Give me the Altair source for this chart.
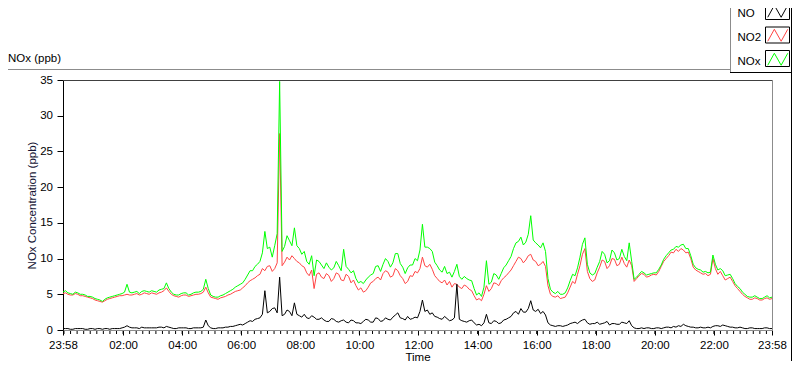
import altair as alt
import pandas as pd

# ---------------- data: one sample every 5 min, starting 23:58 ----------------
STEP_MIN = 5

no2 = [
    5.1, 5.2, 5.0, 4.9, 4.9, 5.1, 5.0, 4.8, 4.8, 4.7, 4.6, 4.5,
    4.4, 4.2, 4.1, 4.0, 3.9, 4.1, 4.3, 4.4, 4.5, 4.6, 4.7, 4.8,
    4.8, 4.9, 5.0, 4.9, 4.9, 5.0, 5.1, 4.9, 5.0, 5.2, 5.1, 5.0,
    5.2, 5.1, 5.0, 5.2, 5.3, 5.5, 5.9, 5.4, 5.0, 4.8, 4.7, 4.6,
    4.8, 4.9, 4.9, 4.7, 4.8, 4.9, 5.0, 5.0, 5.1, 5.3, 6.0, 5.2,
    4.6, 4.5, 4.4, 4.3, 4.5, 4.6, 4.7, 4.9, 5.0, 5.2, 5.4, 5.5,
    5.6, 5.9, 6.2, 6.6, 6.9, 7.1, 7.3, 7.6, 7.8, 8.6, 8.3, 8.9,
    9.0, 8.2, 8.6, 9.4, 27.5, 9.0, 9.5, 10.2, 9.8, 10.4, 10.0, 9.6,
    9.4, 9.0, 8.8, 8.0, 7.6, 8.4, 5.8, 7.8, 8.0, 7.4, 7.2, 7.9,
    7.6, 6.8, 7.2, 8.0, 7.8, 7.0, 6.9, 7.8, 7.5, 6.6, 7.0, 6.2,
    5.6, 5.9, 5.3, 5.5, 6.0, 6.6, 6.8, 7.2, 7.4, 7.0, 7.9, 8.3,
    8.1, 7.4, 7.6, 8.6, 8.3, 7.6, 7.2, 6.5, 6.8, 7.6, 7.5, 8.2,
    8.0, 8.6, 10.2, 9.0, 8.8, 9.2, 8.5, 7.6, 7.2, 6.8, 6.6, 7.0,
    6.3, 6.8, 6.0, 6.5, 6.4, 6.0, 5.8, 6.3, 6.1, 5.7, 5.5, 4.8,
    4.2, 4.4, 4.1, 5.0, 6.2, 5.4, 5.8, 6.6, 6.5, 6.2, 6.9, 7.3,
    7.6, 8.0, 8.4, 9.0, 9.6, 10.2, 10.0, 9.4, 9.8, 10.4, 10.6, 9.8,
    9.6, 9.0, 9.2, 9.6, 8.9, 6.2, 5.0, 4.7, 4.6, 4.8, 4.4, 4.5,
    4.6, 5.2, 6.0, 6.8, 6.5, 7.8, 9.0, 10.6, 11.4, 8.2, 7.2, 6.8,
    7.0, 8.0, 8.8, 9.8, 9.6, 8.6, 9.0, 10.0, 9.9, 9.0, 9.2, 10.2,
    9.3, 8.8, 9.8, 9.0, 6.8, 7.2, 7.6, 7.9, 7.8, 7.4, 7.5, 7.7,
    7.8, 7.7, 8.2, 8.9, 9.6, 10.0, 10.4, 10.9, 10.8, 11.3, 11.0, 11.4,
    11.2, 10.8, 10.9, 10.0, 8.8, 8.4, 8.2, 8.0, 7.8, 7.9, 7.6, 7.8,
    10.0, 8.6, 7.8, 8.2, 7.6, 7.0, 7.2, 7.4, 6.8, 6.2, 5.8, 5.4,
    5.0, 4.7, 4.5, 4.3, 4.3, 4.5, 4.4, 4.2, 4.2, 4.4, 4.5, 4.3, 4.4,
]

no = [
    0.2, 0.2, 0.2, 0.1, 0.1, 0.2, 0.2, 0.2, 0.2, 0.1, 0.1, 0.2,
    0.2, 0.1, 0.2, 0.2, 0.1, 0.2, 0.2, 0.1, 0.2, 0.2, 0.2, 0.2,
    0.3, 0.4, 0.6, 0.4, 0.3, 0.3, 0.3, 0.2, 0.4, 0.3, 0.3, 0.3,
    0.3, 0.3, 0.3, 0.4, 0.4, 0.3, 0.5, 0.4, 0.3, 0.2, 0.2, 0.3,
    0.3, 0.3, 0.3, 0.2, 0.2, 0.3, 0.3, 0.3, 0.3, 0.4, 1.4, 0.6,
    0.3, 0.2, 0.2, 0.3, 0.3, 0.3, 0.4, 0.4, 0.5, 0.5, 0.6, 0.7,
    0.8, 0.7, 0.9, 1.1, 1.3, 1.2, 1.5, 1.6, 1.7, 2.2, 5.5, 2.4,
    2.6, 3.0, 3.1, 2.4, 7.4, 2.0, 2.2, 2.8, 2.6, 2.0, 3.8, 2.2,
    2.0, 1.8, 2.2, 1.7, 1.6, 2.0, 1.8, 1.5, 1.5, 1.7, 1.4, 1.2,
    1.2, 1.6, 1.5, 1.2, 1.1, 1.3, 1.4, 1.1, 1.0, 1.4, 1.3, 1.0,
    1.0, 0.9, 1.2, 1.5, 1.4, 1.1, 1.1, 1.7, 1.6, 1.2, 1.3, 1.7,
    1.5, 1.4, 1.8, 2.1, 2.4, 1.7, 1.6, 1.4, 1.9, 1.5, 1.6, 1.8,
    1.7, 2.6, 4.2, 2.6, 2.8, 2.2, 2.4, 1.9, 1.8, 1.6, 1.5, 1.9,
    1.6, 1.3, 1.4, 1.7, 6.4, 1.5, 1.3, 1.2, 1.1, 1.3, 1.4, 1.0,
    0.7, 0.8, 0.6, 1.0, 2.2, 1.0, 0.9, 1.3, 1.2, 0.9, 1.0, 1.4,
    1.5, 1.7, 1.9, 2.4, 2.6, 2.2, 3.0, 2.5, 2.5, 3.0, 4.1, 2.8,
    2.6, 2.9, 2.3, 2.6, 2.1, 1.0, 0.7, 0.6, 0.5, 0.6, 0.6, 0.5,
    0.6, 0.7, 0.9, 1.0, 1.1, 0.9, 1.2, 1.4, 1.5, 1.0, 0.8, 0.9,
    0.9, 1.1, 0.8, 0.9, 1.0, 1.2, 0.7, 0.9, 0.9, 0.8, 0.8, 1.1,
    1.0, 0.9, 1.3, 0.6, 0.3, 0.2, 0.2, 0.3, 0.2, 0.3, 0.3, 0.2,
    0.2, 0.3, 0.3, 0.2, 0.3, 0.4, 0.4, 0.3, 0.5, 0.4, 0.6, 0.5,
    0.8, 0.6, 0.5, 0.4, 0.4, 0.3, 0.3, 0.4, 0.3, 0.3, 0.4, 0.3,
    0.5, 0.6, 0.6, 0.5, 0.7, 0.6, 0.5, 0.4, 0.4, 0.3, 0.3, 0.4,
    0.3, 0.2, 0.2, 0.3, 0.3, 0.2, 0.2, 0.2, 0.2, 0.3, 0.3, 0.2, 0.2,
]

nox = [
    5.3, 5.5, 5.2, 5.1, 5.0, 5.3, 5.2, 5.0, 5.0, 4.9, 4.7, 4.7,
    4.6, 4.4, 4.3, 4.2, 4.0, 4.3, 4.5, 4.6, 4.7, 4.8, 4.9, 5.0,
    5.1, 5.3, 6.4, 5.3, 5.2, 5.3, 5.4, 5.1, 5.4, 5.5, 5.4, 5.3,
    5.5, 5.4, 5.3, 5.6, 5.7, 5.8, 6.6, 5.8, 5.3, 5.0, 4.9, 4.9,
    5.1, 5.2, 5.2, 4.9, 5.0, 5.2, 5.3, 5.3, 5.4, 5.7, 7.1, 5.8,
    4.9, 4.7, 4.6, 4.6, 4.8, 4.9, 5.1, 5.3, 5.5, 5.7, 6.0, 6.2,
    6.4, 6.6, 7.1, 7.7, 8.3, 8.3, 8.9, 9.2, 9.6, 10.8, 13.8, 11.4,
    11.6, 10.2, 11.8, 13.5, 34.8, 11.0, 11.7, 13.2, 12.5, 11.8, 14.3, 11.8,
    11.4, 10.6, 11.0, 9.6, 9.2, 10.4, 7.6, 9.8, 9.6, 9.1, 8.6, 9.4,
    8.8, 8.4, 8.7, 9.6, 9.0, 8.3, 11.3, 8.9, 8.5, 8.0, 8.3, 7.2,
    6.6, 6.8, 6.5, 7.0, 7.4, 7.7, 7.9, 8.9, 9.0, 8.2, 9.2, 10.0,
    9.6, 8.8, 9.4, 10.7, 10.7, 9.3, 8.8, 7.9, 8.7, 9.1, 9.1, 10.0,
    9.7, 11.2, 14.8, 11.6, 11.6, 11.4, 11.0, 9.5, 9.0, 8.4, 8.1, 8.9,
    7.9, 8.1, 7.4, 8.2, 9.2, 7.5, 7.1, 7.5, 7.2, 7.0, 6.9, 5.8,
    4.9, 5.2, 4.7, 6.0, 9.7, 6.4, 6.7, 7.9, 7.7, 7.1, 7.9, 8.7,
    9.1, 9.7, 10.3, 11.4, 12.2, 12.4, 13.0, 11.9, 12.3, 13.4, 16.0, 12.6,
    12.2, 11.9, 11.5, 12.2, 11.0, 7.2, 5.7, 5.3, 5.1, 5.4, 5.0, 5.0,
    5.2, 5.9, 6.9, 7.8, 7.6, 8.7, 10.2, 12.0, 12.9, 9.2, 8.0, 7.7,
    7.9, 8.8, 9.6, 11.0, 10.6, 9.4, 9.7, 11.2, 10.8, 9.8, 10.0, 11.3,
    10.3, 9.7, 12.2, 9.6, 7.1, 7.4, 7.8, 8.2, 8.0, 7.7, 7.8, 7.9,
    8.0, 8.0, 8.5, 9.1, 9.9, 10.4, 10.8, 11.2, 11.3, 11.7, 11.6, 11.9,
    12.0, 11.4, 11.4, 10.4, 9.2, 8.7, 8.5, 8.4, 8.1, 8.2, 8.0, 8.1,
    10.5, 9.2, 8.4, 8.6, 8.3, 7.6, 7.7, 7.8, 7.2, 6.5, 6.1, 5.8,
    5.3, 5.0, 4.7, 4.6, 4.6, 4.8, 4.6, 4.4, 4.4, 4.6, 4.8, 4.5, 4.6,
]

series_names = ["NO", "NO2", "NOx"]
series_colors = ["#000000", "#ff4444", "#00ff00"]

# x axis: minutes after 23:58
major_ticks = [0, 122, 242, 362, 482, 602, 722, 842, 962, 1082, 1202, 1322, 1440]
major_labels = ["23:58", "02:00", "04:00", "06:00", "08:00", "10:00", "12:00",
                "14:00", "16:00", "18:00", "20:00", "22:00", "23:58"]
minor_ticks = [122 + j * 40.0 / 3 for j in range(-9, 100) if 0 < 122 + j * 40.0 / 3 <= 1440]

y_ticks = [0, 5, 10, 15, 20, 25, 30, 35]

FONT = "Liberation Sans"
FS = 11.5

# ---------------- tables ----------------
rows = []
for name, vals in (("NO", no), ("NO2", no2), ("NOx", nox)):
    for i, v in enumerate(vals):
        rows.append({"t": i * STEP_MIN, "v": v, "s": name})
df = pd.DataFrame(rows)
minor_df = pd.DataFrame({"t": minor_ticks})
one = pd.DataFrame({"k": [0]})

label_expr = "[{}][indexof([{}], datum.value)]".format(
    ",".join("'%s'" % s for s in major_labels), ",".join(str(v) for v in major_ticks))

x_enc = alt.X("t:Q",
              scale=alt.Scale(domain=[0, 1440], nice=False, zero=False),
              axis=alt.Axis(values=major_ticks, labelExpr=label_expr, grid=False,
                            tickSize=5, tickColor="black", domainColor="#8c8c8c",
                            labelFont=FONT, labelFontSize=FS, labelColor="black",
                            labelBaseline="alphabetic", labelPadding=13.5,
                            labelOverlap=False, labelFlush=False, labelBound=False,
                            title="Time", titleFont=FONT, titleFontSize=FS,
                            titleFontWeight="normal", titleColor="black",
                            titleX=354.5, titleY=30, titleBaseline="alphabetic"))
y_enc = alt.Y("v:Q",
              scale=alt.Scale(domain=[0, 35], nice=False),
              axis=alt.Axis(values=y_ticks, grid=False, tickSize=6, tickColor="black",
                            domainColor="black", labelFont=FONT, labelFontSize=FS,
                            labelColor="black", labelPadding=4.5,
                            title="NOx Concentration (ppb)", titleFont=FONT,
                            titleFontSize=FS, titleFontWeight="normal",
                            titleColor="#161636", titleX=-28, titleY=125,
                            titleAngle=270, titleAlign="center",
                            titleBaseline="alphabetic"))
color_enc = alt.Color("s:N",
                      scale=alt.Scale(domain=series_names, range=series_colors),
                      legend=alt.Legend(orient="none", legendX=663, legendY=-71.5,
                                        direction="vertical", title=None, padding=0,
                                        symbolType="M7.2,0.6L8.52,-1.8L9.88,0.6L11.2,-1.8",
                                        symbolSize=100, symbolStrokeWidth=1,
                                        symbolFillColor="transparent",
                                        rowPadding=6,
                                        labelFont=FONT, labelFontSize=FS,
                                        labelColor="black", labelAlign="left",
                                        labelOffset=0))


def series_layer(name):
    return alt.Chart(df).transform_filter(alt.datum.s == name).mark_line(
        strokeWidth=1, interpolate="linear").encode(x=x_enc, y=y_enc, color=color_enc)


def hline(x1, x2, y, color):
    return alt.Chart(one).mark_rule(color=color, strokeWidth=1).encode(
        x=alt.value(x1), x2=alt.value(x2), y=alt.value(y))


def vline(x, y1, y2, color):
    return alt.Chart(one).mark_rule(color=color, strokeWidth=1).encode(
        x=alt.value(x), y=alt.value(y1), y2=alt.value(y2))


def box(x1, x2, y1, y2):
    return alt.Chart(one).mark_rect(fill="white", stroke="black", strokeWidth=1).encode(
        x=alt.value(x1), x2=alt.value(x2), y=alt.value(y1), y2=alt.value(y2))


GRAY = "#8c8c8c"

minor = alt.Chart(minor_df).mark_rule(color="black", strokeWidth=1).encode(
    x=x_enc, y=alt.value(251), y2=alt.value(254))

title_text = alt.Chart(one).mark_text(align="left", baseline="alphabetic", font=FONT,
                                      fontSize=FS, color="black").encode(
    x=alt.value(-55), y=alt.value(-18), text=alt.value("NOx (ppb)"))

decor = [
    hline(0, 709, 0.5, "#404040"),      # plot top border
    vline(709.5, 0, 250, GRAY),         # plot right border
    hline(-55, 667, -10.5, GRAY),       # frame top
    vline(667.5, -80, -7.5, GRAY),      # legend box left
    hline(667, 729, -7.5, "black"),     # legend box bottom
    vline(728.5, -80, 281, "black"),    # frame right
    box(702.5, 726.5, -76.5, -60.5),
    box(702.5, 726.5, -53.0, -37.0),
    box(702.5, 726.5, -29.5, -13.5),
]

chart = alt.layer(
    *decor,
    title_text,
    minor,
    series_layer("NO2"),
    series_layer("NOx"),
    series_layer("NO"),
).properties(
    width=709, height=250,
    padding={"left": 55, "top": 72, "right": 20, "bottom": 31},
    autosize="none",
    background="white",
).configure_view(strokeWidth=0)

chart.save("out.html", embed_options={"renderer": "svg", "actions": False})
